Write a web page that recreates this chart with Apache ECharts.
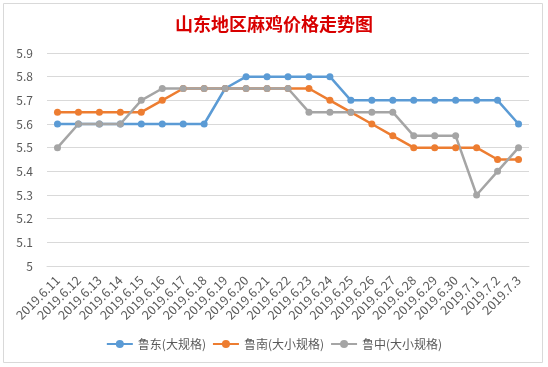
<!DOCTYPE html>
<html>
<head>
<meta charset="utf-8">
<script src="https://cdn.jsdelivr.net/npm/echarts@6/dist/echarts.min.js"></script>
<style>
html,body{margin:0;padding:0;background:#fff;}
#c{width:548px;height:367px;}
</style>
</head>
<body>
<div id="c"></div>
<script>
const titleText = '山东地区麻鸡价格走势图';
const categories = ['2019.6.11','2019.6.12','2019.6.13','2019.6.14','2019.6.15','2019.6.16','2019.6.17','2019.6.18','2019.6.19','2019.6.20','2019.6.21','2019.6.22','2019.6.23','2019.6.24','2019.6.25','2019.6.26','2019.6.27','2019.6.28','2019.6.29','2019.6.30','2019.7.1','2019.7.2','2019.7.3'];
const seriesNames = ['鲁东(大规格)','鲁南(大小规格)','鲁中(大小规格)'];
const ludong = [5.6,5.6,5.6,5.6,5.6,5.6,5.6,5.6,5.75,5.8,5.8,5.8,5.8,5.8,5.7,5.7,5.7,5.7,5.7,5.7,5.7,5.7,5.6];
const lunan = [5.65,5.65,5.65,5.65,5.65,5.7,5.75,5.75,5.75,5.75,5.75,5.75,5.75,5.7,5.65,5.6,5.55,5.5,5.5,5.5,5.5,5.45,5.45];
const luzhong = [5.5,5.6,5.6,5.6,5.7,5.75,5.75,5.75,5.75,5.75,5.75,5.75,5.65,5.65,5.65,5.65,5.65,5.55,5.55,5.55,5.3,5.4,5.5];
const yMin = 5, yMax = 5.9, yStep = 0.1;
const colors = ['#5b9bd5','#ed7d31','#a5a5a5'];

const chart = echarts.init(document.getElementById('c'));
const font = '"Noto Sans CJK SC", "Microsoft YaHei", sans-serif';
const data = [ludong, lunan, luzhong];
chart.setOption({
  animation: false,
  color: colors,
  textStyle: {fontFamily: font},
  graphic: [{
    type: 'rect', shape: {x: 3.5, y: 3.5, width: 539, height: 359},
    style: {fill: 'none', stroke: '#d9d9d9', lineWidth: 1}, silent: true
  }],
  title: {
    text: titleText, left: 'center', top: 10,
    textStyle: {color: '#d80000', fontSize: 18, fontWeight: 'bold', fontFamily: font}
  },
  grid: {left: 47, right: 19, top: 53, bottom: 101},
  legend: {
    bottom: 12, left: 'center', itemWidth: 26, itemHeight: 10, itemGap: 6,
    textStyle: {color: '#595959', fontSize: 12, fontFamily: font},
    data: seriesNames
  },
  xAxis: {
    type: 'category', data: categories, boundaryGap: true,
    axisLine: {lineStyle: {color: '#d9d9d9'}},
    axisTick: {show: false},
    axisLabel: {rotate: 45, color: '#595959', fontSize: 12.5, interval: 0, margin: 12, fontFamily: font}
  },
  yAxis: {
    type: 'value', min: yMin, max: yMax, interval: yStep,
    axisLine: {show: false}, axisTick: {show: false},
    splitLine: {lineStyle: {color: '#d9d9d9'}},
    axisLabel: {color: '#595959', fontSize: 12, margin: 14, fontFamily: font,
      formatter: v => String(+v.toFixed(1))}
  },
  series: seriesNames.map((n, i) => ({
    name: n, type: 'line', data: data[i],
    symbol: 'circle', symbolSize: 7,
    lineStyle: {width: 2.5, color: colors[i]},
    itemStyle: {color: colors[i]}
  }))
});
</script>
</body>
</html>
